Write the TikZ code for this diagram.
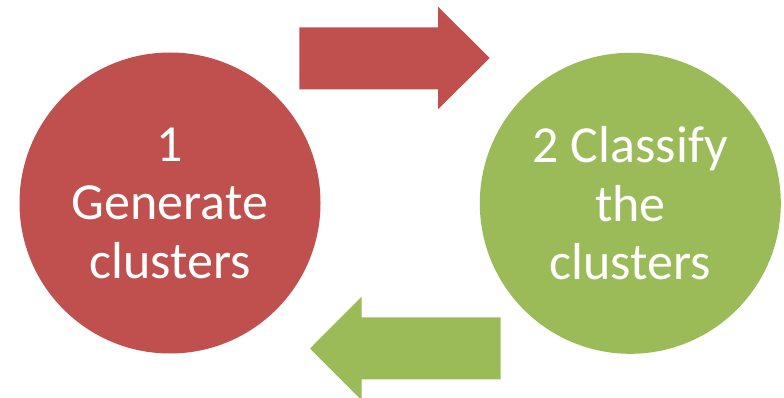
\documentclass[tikz,border=0pt]{standalone}
\usepackage{fontspec}
\setmainfont{Carlito}
\definecolor{stepred}{HTML}{C0504D}
\definecolor{stepgreen}{HTML}{9BBB59}
\begin{document}
\begin{tikzpicture}[x=1pt,y=-1pt,
  stage/.style={circle,minimum size=301pt,inner sep=0pt,draw=none},
  label/.style={text=white,align=center,inner sep=0pt,font=\fontsize{52}{58.5}\selectfont},
  blockarrow/.style={draw=none}]
\useasboundingbox (0,0) rectangle (784,398);
\clip (0,0) rectangle (784,398);
% the two stages
\node[stage,fill=stepred] (gen) at (170,203) {};
\node[stage,fill=stepgreen] (cls) at (630.3,203.3) {};
\node[label] (gentext) at (gen.center) {1\\Generate\\clusters};
\node[label] (clstext) at (cls.center) {2 Classify\\the\\clusters};
% forward arrow (generate -> classify)
\fill[stepred] (299.3,27.3) -- (438,27.3) -- (438,6.7) -- (489.7,58)
  -- (438,109.3) -- (438,89.3) -- (299.3,89.3) -- cycle;
% backward arrow (classify -> generate)
\fill[stepgreen] (500.7,317.3) -- (361.7,317.3) -- (361.7,296.7) -- (310,348.5)
  -- (361.7,400.3) -- (361.7,379.3) -- (500.7,379.3) -- cycle;
\end{tikzpicture}
\end{document}
